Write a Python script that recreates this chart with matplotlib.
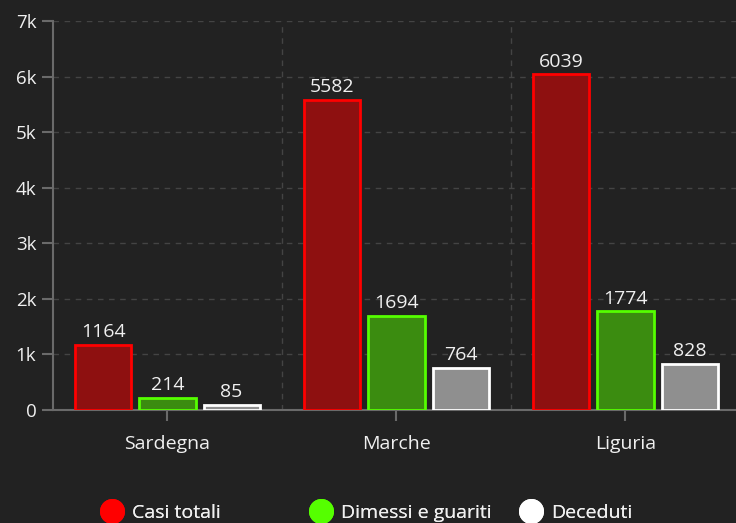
import numpy as np
import matplotlib
matplotlib.use("Agg")
import matplotlib.pyplot as plt
from matplotlib.lines import Line2D
from matplotlib.ticker import FuncFormatter

# data
regioni = ["Sardegna", "Marche", "Liguria"]
casi_totali = [1164, 5582, 6039]
dimessi_guariti = [214, 1694, 1774]
deceduti = [85, 764, 828]
serie_nomi = ["Casi totali", "Dimessi e guariti", "Deceduti"]

bg = "#222222"
fill_cols = ["#8e1010", "#3b8c10", "#8f8f8f"]
edge_cols = ["#ff0000", "#55ff00", "#ffffff"]
legend_cols = ["#ff0000", "#55ff00", "#ffffff"]
txt = "#f0f0f0"

plt.rcParams["font.family"] = ["Open Sans", "DejaVu Sans"]

fig = plt.figure(figsize=(7.36, 5.23), dpi=100, facecolor=bg)
# axes from x=53px, width 3*229px (runs slightly past the right edge)
ax = fig.add_axes([53 / 736, 1 - 410 / 523, 687 / 736, 389 / 523], facecolor=bg)

x = np.arange(len(regioni))
w = 0.245
off = 0.28
series = [casi_totali, dimessi_guariti, deceduti]
for i, vals in enumerate(series):
    pos = x + (i - 1) * off
    bars = ax.bar(pos, vals, width=w, color=fill_cols[i], edgecolor=edge_cols[i],
                  linewidth=2, zorder=3)
    for b, v in zip(bars, vals):
        ax.text(b.get_x() + b.get_width() / 2, v + 70, str(v), ha="center", va="bottom",
                color=txt, fontsize=14, zorder=4)

ax.set_xlim(-0.5, 2.5)
ax.set_ylim(0, 7000)
ax.set_yticks(np.arange(0, 7001, 1000))
ax.yaxis.set_major_formatter(FuncFormatter(lambda v, p: "0" if v == 0 else f"{int(v/1000)}k"))
ax.set_xticks(x)
ax.set_xticklabels(regioni)
ax.set_xticks([0.5, 1.5], minor=True)

ax.grid(axis="y", which="major", color="#444444", linestyle=(0, (4, 4)), linewidth=1, zorder=0)
ax.grid(axis="x", which="minor", color="#444444", linestyle=(0, (4, 4)), linewidth=1, zorder=0)
ax.tick_params(axis="x", which="minor", length=0)
ax.tick_params(axis="both", which="major", colors="#6a6a6a", labelcolor=txt, labelsize=14,
               length=8, width=1.5)
ax.tick_params(axis="y", which="major", labelsize=13.5, pad=4)
ax.tick_params(axis="x", which="major", pad=10)

for s in ["top", "right"]:
    ax.spines[s].set_visible(False)
for s in ["left", "bottom"]:
    ax.spines[s].set_color("#6a6a6a")
    ax.spines[s].set_linewidth(1.5)

# legend, one entry per fixed column
anchors = [100 / 736, 309 / 736, 519 / 736]
for i, nome in enumerate(serie_nomi):
    h = Line2D([], [], marker="o", linestyle="none", markersize=17,
               markerfacecolor=legend_cols[i], markeredgecolor=legend_cols[i])
    leg = fig.legend([h], [nome], loc="center left", bbox_to_anchor=(anchors[i], 1 - 513 / 523),
                     frameon=False, fontsize=14, labelcolor=txt, handletextpad=0.45,
                     borderaxespad=0, borderpad=0, handlelength=1.2)
    fig.add_artist(leg)

fig.savefig("out.png", dpi=100, facecolor=bg)
